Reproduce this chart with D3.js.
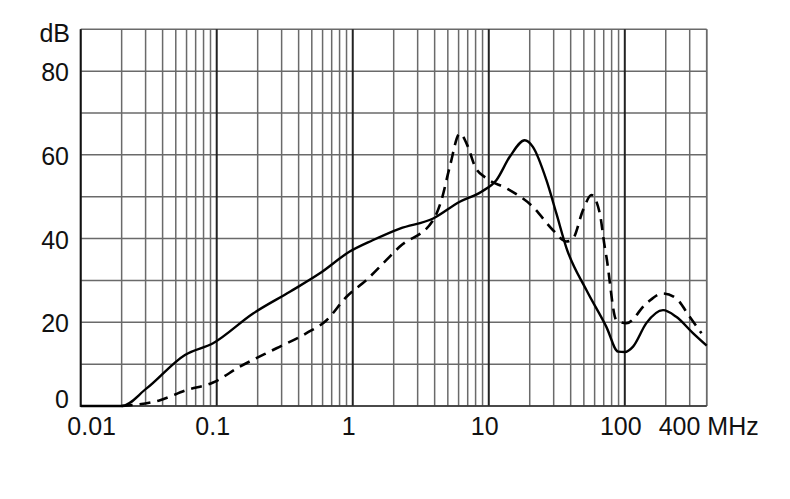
<!DOCTYPE html>
<html>
<head>
    <meta charset="utf-8">
    <style>
        body { margin: 0; background: #fff; }
        svg { display: block; font-family: 'Liberation Sans', Arial, sans-serif; }
        .grid line { stroke: #6a6a6a; stroke-width: 1.5; }
        .grid line.decade { stroke: #222; stroke-width: 2; }
        .tick-label { font-size: 25px; fill: #111; }
    </style>
</head>
<body>
<svg width="790" height="499"></svg>

<script src="https://d3js.org/d3.v7.min.js"></script>
<script>
    // frequency axis (MHz) and level axis (dB)
    let xTicks = [0.01, 0.1, 1, 10, 100]
    let xTickLabels = ["0.01", "0.1", "1", "10", "100"]
    let yTicks = [0, 20, 40, 60, 80]

    // solid curve
    let solidFreq = [0.01, 0.02, 0.0305, 0.0584, 0.094, 0.185, 0.345, 0.573, 0.95, 1.4, 2.22, 3.9, 6.12, 8.83, 11.4, 14.3, 18.4, 21.1, 26.5, 31.4, 37.2, 52.2, 73.2, 89.2, 100, 115, 144, 191, 239, 317, 400]
    let solidDb = [0, 0, 4.2, 12.2, 15.0, 22.1, 27.3, 31.7, 36.9, 39.6, 42.4, 44.8, 48.8, 51.2, 54.0, 59.6, 63.5, 61.9, 54.0, 46.0, 37.8, 27.7, 18.9, 13.0, 12.9, 14.2, 19.8, 22.9, 21.3, 17.4, 14.4]

    // dashed curve
    let dashFreq = [0.02, 0.0383, 0.06, 0.094, 0.148, 0.275, 0.457, 0.642, 0.9, 1.26, 1.77, 2.22, 3.9, 4.49, 5.17, 6.12, 7.04, 7.92, 9.62, 13.5, 21.1, 29.7, 37.2, 41.6, 49.3, 56.9, 65.5, 71.2, 73.2, 86.7, 103, 144, 191, 239, 300, 366]
    let dashDb = [0, 1.4, 3.8, 5.6, 9.4, 13.8, 17.4, 20.5, 26.1, 30.1, 34.9, 38.1, 44.4, 49.2, 57.2, 65.1, 61.9, 57.2, 54.4, 52.0, 47.6, 42.0, 39.3, 40.0, 46.8, 50.4, 46.0, 38.0, 35.7, 20.5, 19.8, 24.5, 26.9, 25.7, 21.3, 17.4]

    let svg = d3.select("svg")

    let x = d3.scaleLog()
        .domain([0.01, 400])
        .range([80.7, 706.7])

    let y = d3.scaleLinear()
        .domain([0, 90])
        .range([406, 29.3])

    // vertical grid: 1..9 in every decade, up to 400
    let xGrid = []
    for (let d = 0.01; d < 400; d *= 10) {
        for (let k = 1; k <= 9; k++) {
            let v = +(d * k).toPrecision(3)
            if (v <= 400) xGrid.push(v)
        }
    }
    xGrid.push(400)

    let grid = svg.append("g").attr("class", "grid")

    grid.selectAll(".h")
        .data(d3.range(0, 100, 10))
        .join("line")
        .attr("x1", x(0.01))
        .attr("x2", x(400))
        .attr("y1", d => y(d))
        .attr("y2", d => y(d))

    grid.selectAll(".v")
        .data(xGrid)
        .join("line")
        .attr("class", d => xTicks.includes(d) && d > 0.01 ? "decade" : null)
        .attr("x1", d => x(d))
        .attr("x2", d => x(d))
        .attr("y1", y(0))
        .attr("y2", y(90))

    // left axis line
    svg.append("line")
        .attr("x1", x(0.01)).attr("x2", x(0.01))
        .attr("y1", y(0) + 1).attr("y2", y(90))
        .style("stroke", "#111")
        .style("stroke-width", 2)

    // bottom axis line
    svg.append("line")
        .attr("x1", x(0.01)).attr("x2", x(400))
        .attr("y1", y(0)).attr("y2", y(0))
        .style("stroke", "#333")
        .style("stroke-width", 1.6)

    let line = d3.line()
        .x(d => x(d[0]))
        .y(d => y(d[1]))
        .curve(d3.curveMonotoneX)

    svg.append("path")
        .datum(d3.zip(solidFreq, solidDb))
        .attr("d", line)
        .attr("fill", "none")
        .style("stroke", "#000")
        .style("stroke-width", 2.4)

    svg.append("path")
        .datum(d3.zip(dashFreq, dashDb))
        .attr("d", line)
        .attr("fill", "none")
        .style("stroke", "#000")
        .style("stroke-width", 2.6)
        .style("stroke-dasharray", "11,7")

    // y labels
    svg.selectAll(".ylab")
        .data(yTicks)
        .join("text")
        .attr("class", "tick-label")
        .attr("x", 69)
        .attr("y", d => y(d) + (d === 0 ? -7 : 1))
        .attr("text-anchor", "end")
        .attr("dominant-baseline", "central")
        .text(d => d)

    svg.append("text")
        .attr("class", "tick-label")
        .attr("x", 70)
        .attr("y", 33)
        .attr("text-anchor", "end")
        .attr("dominant-baseline", "central")
        .text("dB")

    // x labels
    svg.selectAll(".xlab")
        .data(xTicks)
        .join("text")
        .attr("class", "tick-label")
        .attr("x", d => x(d))
        .attr("dx", (d, i) => i === 0 ? 11 : -4)
        .attr("y", 435)
        .attr("text-anchor", "middle")
        .text((d, i) => xTickLabels[i])

    svg.append("text")
        .attr("class", "tick-label")
        .attr("x", x(400) - 48)
        .attr("y", 435)
        .text("400 MHz")
</script>
</body>
</html>
